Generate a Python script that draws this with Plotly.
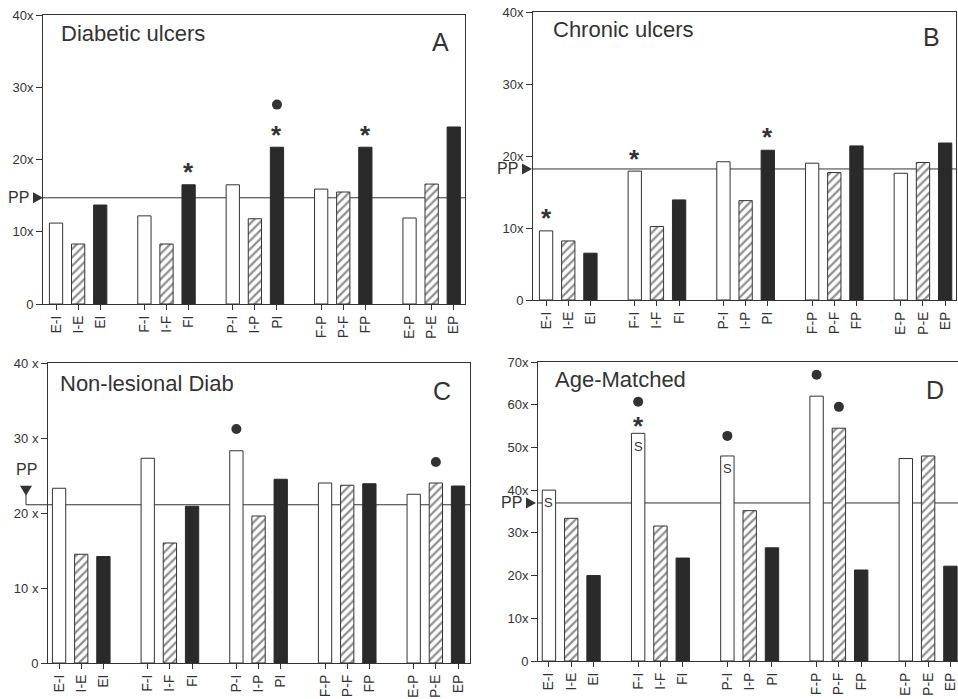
import plotly.graph_objects as go

# ---------------- data ----------------
categories = ["E-I", "I-E", "EI", "F-I", "I-F", "FI", "P-I", "I-P", "PI",
              "F-P", "P-F", "FP", "E-P", "P-E", "EP"]

values_A = [11.2, 8.3, 13.7, 12.2, 8.3, 16.5, 16.5, 11.8, 21.7, 15.9, 15.5, 21.7, 11.9, 16.6, 24.5]
values_B = [9.6, 8.2, 6.5, 17.9, 10.2, 13.9, 19.2, 13.8, 20.8, 19.0, 17.7, 21.4, 17.6, 19.1, 21.8]
values_C = [23.3, 14.5, 14.2, 27.3, 16.0, 20.9, 28.3, 19.6, 24.5, 24.0, 23.7, 23.9, 22.5, 24.0, 23.6]
values_D = [40.0, 33.4, 20.0, 53.3, 31.6, 24.1, 48.0, 35.2, 26.5, 62.0, 54.5, 21.3, 47.4, 48.0, 22.2]

pp_A, pp_B, pp_C, pp_D = 14.7, 18.2, 21.1, 37.0

star_A_cats, star_A_y = ["FI", "PI", "FP"], [19.2, 24.4, 24.4]
dot_A_cats, dot_A_y = ["PI"], [27.6]
star_B_cats, star_B_y = ["E-I", "F-I", "PI"], [12.3, 20.6, 23.6]
dot_B_cats, dot_B_y = [], []
star_C_cats, star_C_y = [], []
dot_C_cats, dot_C_y = ["P-I", "P-E"], [31.2, 26.8]
star_D_cats, star_D_y = ["F-I"], [56.6]
dot_D_cats, dot_D_y = ["F-I", "P-I", "F-P", "P-F"], [60.7, 52.7, 67.0, 59.5]
s_D_cats, s_D_y = ["E-I", "F-I", "P-I"], [37.0, 50.3, 45.1]

titles = ["Diabetic ulcers", "Chronic ulcers", "Non-lesional Diab", "Age-Matched"]
letters = ["A", "B", "C", "D"]

ticks_40 = [0, 10, 20, 30, 40]
ticktext_40 = ["0", "10x", "20x", "30x", "40x"]
ticktext_40s = ["0", "10 x", "20 x", "30 x", "40 x"]
ticks_70 = [0, 10, 20, 30, 40, 50, 60, 70]
ticktext_70 = ["0", "10x", "20x", "30x", "40x", "50x", "60x", "70x"]

# ---------------- layout geometry ----------------
W, H = 958, 699
positions = [i + i // 3 for i in range(len(categories))]
pos_of = dict(zip(categories, positions))

panels = [
    dict(vals=values_A, pp=pp_A, stars=(star_A_cats, star_A_y), dots=(dot_A_cats, dot_A_y),
         xpx=(43, 465), ypx=(15, 304), xr=(-0.59, 18.51), yr=(0, 40),
         tv=ticks_40, tt=ticktext_40, title_xy=(0.037, 0.935), letter_xy=(0.943, 0.905),
         pp_style="right", tip_gap=0, mirror_y=True),
    dict(vals=values_B, pp=pp_B, stars=(star_B_cats, star_B_y), dots=(dot_B_cats, dot_B_y),
         xpx=(533, 956), ypx=(12, 300), xr=(-0.59, 18.49), yr=(0, 40),
         tv=ticks_40, tt=ticktext_40, title_xy=(0.042, 0.94), letter_xy=(0.943, 0.913),
         pp_style="right", tip_gap=1, mirror_y=True),
    dict(vals=values_C, pp=pp_C, stars=(star_C_cats, star_C_y), dots=(dot_C_cats, dot_C_y),
         xpx=(48, 470), ypx=(363, 663), xr=(-0.5, 18.54), yr=(0, 40),
         tv=ticks_40, tt=ticktext_40s, title_xy=(0.024, 0.93), letter_xy=(0.934, 0.905),
         pp_style="down", tip_gap=0, mirror_y=True),
    dict(vals=values_D, pp=pp_D, stars=(star_D_cats, star_D_y), dots=(dot_D_cats, dot_D_y),
         xpx=(538, 958), ypx=(362, 661), xr=(-0.49, 18.34), yr=(0, 70),
         tv=ticks_70, tt=ticktext_70, title_xy=(0.036, 0.943), letter_xy=(0.946, 0.905),
         pp_style="right", tip_gap=2, mirror_y=False),
]

INK = "#333333"
SOLID = "#2a2a2a"
FONT = "Liberation Sans"


def px(x, y):
    """pixel -> paper coordinates"""
    return x / W, 1 - y / H


def path(points):
    parts = []
    for k, (x, y) in enumerate(points):
        X, Y = px(x, y)
        parts.append(("M" if k == 0 else "L") + f"{X:.5f},{Y:.5f}")
    return " ".join(parts) + " Z"


fig = go.Figure()
layout = dict(width=W, height=H, margin=dict(l=0, r=0, t=0, b=0, autoexpand=False),
              paper_bgcolor="white", plot_bgcolor="white", showlegend=False,
              barmode="overlay", font=dict(family=FONT, color=INK),
              shapes=[], annotations=[])

for n, p in enumerate(panels, start=1):
    xa = "x" if n == 1 else f"x{n}"
    ya = "y" if n == 1 else f"y{n}"
    xkey = "xaxis" if n == 1 else f"xaxis{n}"
    ykey = "yaxis" if n == 1 else f"yaxis{n}"
    l, r = p["xpx"]
    t, b = p["ypx"]
    ypx_per_unit = (b - t) / (p["yr"][1] - p["yr"][0])

    layout[xkey] = dict(domain=[l / W, r / W], range=list(p["xr"]), anchor=ya,
                        tickvals=positions, ticktext=categories, tickangle=-90,
                        ticks="outside", ticklen=5, tickcolor=INK, showline=True,
                        linecolor=INK, linewidth=1, mirror=True, showgrid=False,
                        zeroline=False, automargin=False,
                        tickfont=dict(size=14, family=FONT, color=INK))
    layout[ykey] = dict(domain=[1 - b / H, 1 - t / H], range=list(p["yr"]), anchor=xa,
                        tickvals=p["tv"], ticktext=p["tt"], ticks="outside", ticklen=6,
                        tickcolor=INK, showline=True, linecolor=INK, linewidth=1,
                        mirror=p["mirror_y"], showgrid=False, zeroline=False,
                        automargin=False,
                        tickfont=dict(size=13, family=FONT, color=INK))

    vals = p["vals"]
    for kind in range(3):
        xs = [positions[i] for i in range(len(vals)) if i % 3 == kind]
        ys = [vals[i] for i in range(len(vals)) if i % 3 == kind]
        if kind == 0:
            marker = dict(color="white", line=dict(color=INK, width=1))
        elif kind == 1:
            marker = dict(color="white", line=dict(color=INK, width=1),
                          pattern=dict(shape="/", fgcolor="#222222", bgcolor="white",
                                       size=6, solidity=0.38))
        else:
            marker = dict(color=SOLID, line=dict(color=SOLID, width=1))
        fig.add_trace(go.Bar(x=xs, y=ys, width=0.6, marker=marker, xaxis=xa, yaxis=ya,
                             hoverinfo="skip"))

    # PP reference line and marker (triangle drawn as shape in paper space)
    pp = p["pp"]
    py = b - (pp - p["yr"][0]) * ypx_per_unit
    if p["pp_style"] == "right":
        layout["shapes"].append(dict(type="line", xref=f"{xa} domain", yref=ya, x0=0, x1=1,
                                     y0=pp, y1=pp, line=dict(color=INK, width=1), layer="below"))
        tip = l - p["tip_gap"]
        layout["shapes"].append(dict(type="path", xref="paper", yref="paper",
                                     path=path([(tip - 10, py - 5.5), (tip, py), (tip - 10, py + 5.5)]),
                                     fillcolor=INK, line=dict(width=0)))
        layout["annotations"].append(dict(text="PP", xref=f"{xa} domain", yref=ya, x=0, y=pp,
                                          xanchor="right", yanchor="middle", xshift=-12 - p["tip_gap"],
                                          showarrow=False, font=dict(size=16, family=FONT, color=INK)))
    else:
        lx = l - 22
        x_left = (lx - l) / (r - l)
        layout["shapes"].append(dict(type="line", xref=f"{xa} domain", yref=ya, x0=x_left, x1=1,
                                     y0=pp, y1=pp, line=dict(color=INK, width=1), layer="below"))
        layout["shapes"].append(dict(type="line", xref="paper", yref="paper",
                                     x0=lx / W, x1=lx / W, y0=1 - py / H, y1=1 - (py - 10) / H,
                                     line=dict(color=INK, width=1)))
        layout["shapes"].append(dict(type="path", xref="paper", yref="paper",
                                     path=path([(lx - 6, py - 19), (lx + 6, py - 19), (lx, py - 9)]),
                                     fillcolor=INK, line=dict(width=0)))
        X, Y = px(lx, py - 35)
        layout["annotations"].append(dict(text="PP", xref="paper", yref="paper", x=X, y=Y,
                                          xanchor="center", yanchor="middle", showarrow=False,
                                          font=dict(size=16, family=FONT, color=INK)))

    # significance markers
    sc, sy = p["stars"]
    for c, yv in zip(sc, sy):
        layout["annotations"].append(dict(text="<b>*</b>", x=pos_of[c], y=yv, xref=xa, yref=ya,
                                          showarrow=False, yanchor="middle", yshift=-7,
                                          font=dict(size=26, family=FONT, color=INK)))
    dc, dy = p["dots"]
    if dc:
        fig.add_trace(go.Scatter(x=[pos_of[c] for c in dc], y=dy, mode="markers",
                                 cliponaxis=False, marker=dict(symbol="circle", size=10, color=INK),
                                 xaxis=xa, yaxis=ya, hoverinfo="skip"))

    # titles
    layout["annotations"].append(dict(text=titles[n - 1], xref=f"{xa} domain", yref=f"{ya} domain",
                                      x=p["title_xy"][0], y=p["title_xy"][1], xanchor="left",
                                      yanchor="middle", showarrow=False,
                                      font=dict(size=22, family=FONT, color=INK)))
    layout["annotations"].append(dict(text=letters[n - 1], xref=f"{xa} domain", yref=f"{ya} domain",
                                      x=p["letter_xy"][0], y=p["letter_xy"][1], xanchor="center",
                                      yanchor="middle", showarrow=False,
                                      font=dict(size=25, family=FONT, color=INK)))

# "S" labels inside bars of panel D
for c, yv in zip(s_D_cats, s_D_y):
    layout["annotations"].append(dict(text="S", x=pos_of[c], y=yv, xref="x4", yref="y4",
                                      showarrow=False, yanchor="middle",
                                      font=dict(size=13, family=FONT, color=INK)))

fig.update_layout(**layout)
fig.write_html("out.html", config={"displayModeBar": False},
               post_script="document.body.style.margin='0';document.body.style.overflow='hidden';")
